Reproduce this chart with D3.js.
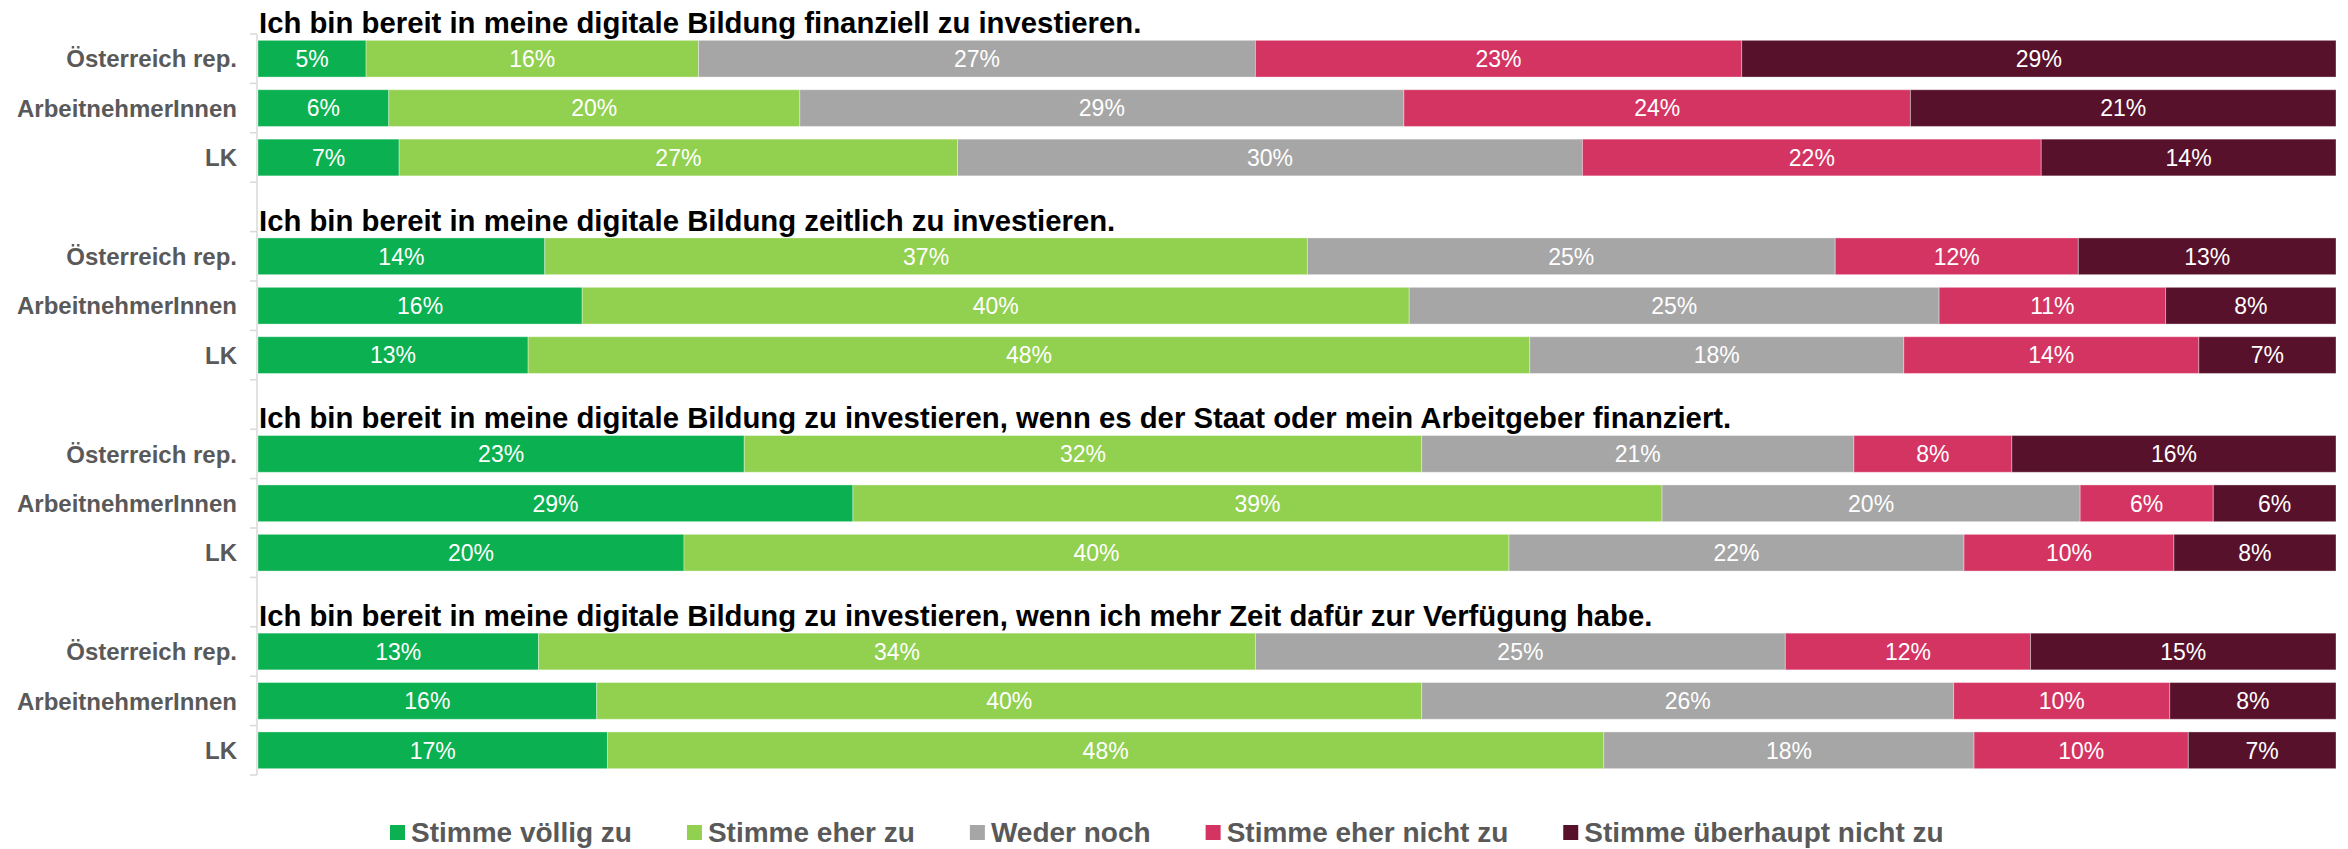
<!DOCTYPE html>
<html>
<head>
<meta charset="utf-8">
<script src="https://cdn.jsdelivr.net/npm/d3@7"></script>
<style>
  html, body { margin: 0; padding: 0; background: #fff; }
  svg { display: block; font-family: "Liberation Sans", Arial, Helvetica, sans-serif; }
</style>
</head>
<body>
<svg id="chart" width="2348" height="849"></svg>
<script>
// ---------- DATA ----------
const questions = [
  "Ich bin bereit in meine digitale Bildung finanziell zu investieren.",
  "Ich bin bereit in meine digitale Bildung zeitlich zu investieren.",
  "Ich bin bereit in meine digitale Bildung zu investieren, wenn es der Staat oder mein Arbeitgeber finanziert.",
  "Ich bin bereit in meine digitale Bildung zu investieren, wenn ich mehr Zeit dafür zur Verfügung habe."
];
const categories = ["Österreich rep.", "ArbeitnehmerInnen", "LK"];
const seriesNames = ["Stimme völlig zu", "Stimme eher zu", "Weder noch", "Stimme eher nicht zu", "Stimme überhaupt nicht zu"];
const seriesColors = ["#0BB050", "#92D050", "#A6A6A6", "#D43462", "#58112B"];

// printed labels per question: rows = categories, columns = series (in %)
const q1Labels = [[5, 16, 27, 23, 29], [6, 20, 29, 24, 21], [7, 27, 30, 22, 14]];
const q2Labels = [[14, 37, 25, 12, 13], [16, 40, 25, 11, 8], [13, 48, 18, 14, 7]];
const q3Labels = [[23, 32, 21, 8, 16], [29, 39, 20, 6, 6], [20, 40, 22, 10, 8]];
const q4Labels = [[13, 34, 25, 12, 15], [16, 40, 26, 10, 8], [17, 48, 18, 10, 7]];
const questionLabels = [q1Labels, q2Labels, q3Labels, q4Labels];

// unrounded shares (in %)
const q1Shares = [[5.2, 16.0, 26.8, 23.4, 28.6], [6.3, 19.8, 29.1, 24.4, 20.5], [6.8, 26.9, 30.1, 22.1, 14.2]];
const q2Shares = [[13.8, 36.7, 25.4, 11.7, 12.4], [15.6, 39.8, 25.5, 10.9, 8.2], [13.0, 48.2, 18.0, 14.2, 6.6]];
const q3Shares = [[23.4, 32.6, 20.8, 7.6, 15.6], [28.6, 38.9, 20.1, 6.4, 5.9], [20.5, 39.7, 21.9, 10.1, 7.8]];
const q4Shares = [[13.5, 34.5, 25.5, 11.8, 14.7], [16.3, 39.7, 25.6, 10.4, 8.0], [16.8, 47.9, 17.8, 10.3, 7.1]];
const questionShares = [q1Shares, q2Shares, q3Shares, q4Shares];

// ---------- BUILD TABLE ----------
const rowIds = [];
const table = [];
questions.forEach((q, qi) => {
  categories.forEach((c, ci) => {
    const id = qi + "|" + c;
    rowIds.push(id);
    const row = { id, q: qi, cat: c, labels: {} };
    seriesNames.forEach((s, si) => {
      row[s] = questionShares[qi][ci][si];
      row.labels[s] = questionLabels[qi][ci][si];
    });
    table.push(row);
  });
  if (qi < questions.length - 1) rowIds.push("gap" + qi);
});

// ---------- LAYOUT ----------
const svg = d3.select("#chart");
const plotLeft = 258, plotRight = 2336;
const padIn = 0.257;

const x = d3.scaleLinear().domain([0, 1]).range([plotLeft, plotRight]);
const y = d3.scaleBand().domain(rowIds).range([34, 775]).paddingInner(padIn).paddingOuter(padIn / 2);
const color = d3.scaleOrdinal().domain(seriesNames).range(seriesColors);

const stack = d3.stack().keys(seriesNames).offset(d3.stackOffsetExpand);
const stacked = stack(table);

// axis line + ticks
const gAxis = svg.append("g");
gAxis.append("line")
  .attr("x1", plotLeft - 1).attr("x2", plotLeft - 1)
  .attr("y1", y.range()[0]).attr("y2", y.range()[1])
  .attr("stroke", "#D9D9D9").attr("stroke-width", 1.5);
const tickPos = rowIds.map(id => y(id) - y.step() * padIn / 2).concat([y.range()[1]]);
gAxis.selectAll("line.tick").data(tickPos).join("line")
  .attr("class", "tick")
  .attr("x1", plotLeft - 8).attr("x2", plotLeft - 1)
  .attr("y1", d => d).attr("y2", d => d)
  .attr("stroke", "#D9D9D9").attr("stroke-width", 1.5);

// bars
const gBars = svg.append("g");
stacked.forEach(layer => {
  const g = gBars.append("g").attr("fill", color(layer.key));
  g.selectAll("rect").data(layer).join("rect")
    .attr("x", d => x(d[0]))
    .attr("y", d => y(d.data.id))
    .attr("width", d => x(d[1]) - x(d[0]))
    .attr("height", y.bandwidth())
    .attr("stroke", "rgba(255,255,255,0.35)")
    .attr("stroke-width", 1);
  g.selectAll("text").data(layer).join("text")
    .attr("x", d => (x(d[0]) + x(d[1])) / 2)
    .attr("y", d => y(d.data.id) + y.bandwidth() / 2)
    .attr("dy", "0.36em")
    .attr("text-anchor", "middle")
    .attr("fill", "#FFFFFF")
    .attr("font-size", 23)
    .text(d => d.data.labels[layer.key] + "%");
});

// category labels
svg.append("g").selectAll("text").data(table).join("text")
  .attr("x", 237)
  .attr("y", d => y(d.id) + y.bandwidth() / 2)
  .attr("dy", "0.36em")
  .attr("text-anchor", "end")
  .attr("font-size", 24)
  .attr("font-weight", "bold")
  .attr("fill", "#595959")
  .text(d => d.cat);

// question titles
svg.append("g").selectAll("text").data(questions).join("text")
  .attr("x", plotLeft + 1)
  .attr("y", (q, qi) => y(qi + "|" + categories[0]) - y.step() * padIn / 2 - 1)
  .attr("font-size", 29.3)
  .attr("font-weight", "bold")
  .attr("fill", "#000000")
  .text(q => q);

// legend
const legend = svg.append("g");
let lx = 390;
const ly = 825;
seriesNames.forEach(s => {
  legend.append("rect").attr("x", lx).attr("y", ly).attr("width", 15).attr("height", 15).attr("fill", color(s));
  const t = legend.append("text")
    .attr("x", lx + 21).attr("y", ly + 17)
    .attr("font-size", 28).attr("font-weight", "bold").attr("fill", "#595959")
    .text(s);
  lx += 21 + t.node().getComputedTextLength() + 55;
});
</script>
</body>
</html>
